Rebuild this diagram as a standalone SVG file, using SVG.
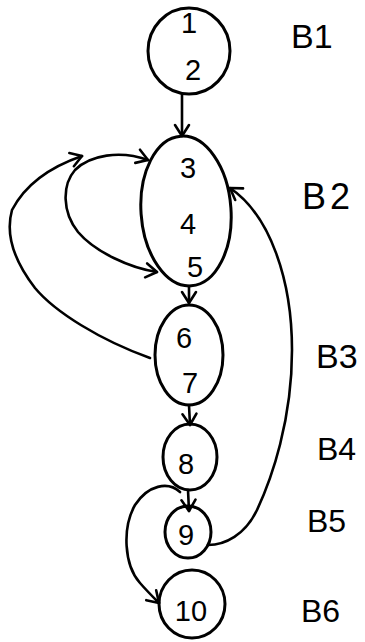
<svg xmlns="http://www.w3.org/2000/svg" width="365" height="642" viewBox="0 0 365 642">
<style>
.node{fill:none;stroke:#000;stroke-width:3}
.edge{fill:none;stroke:#000;stroke-width:2.6;stroke-linecap:round;stroke-linejoin:round}
.num{font-family:"Liberation Sans",Arial,sans-serif;font-size:29px;fill:#000;text-anchor:middle}
.lbl{font-family:"Liberation Sans",Arial,sans-serif;font-size:34px;fill:#000}
</style>
<defs>
<marker id="ah" viewBox="-14 -9 16 18" refX="0" refY="0" markerWidth="16" markerHeight="18" markerUnits="userSpaceOnUse" orient="auto-start-reverse">
<path d="M-11,-7 L0,0 L-11,7" fill="none" stroke="#000" stroke-width="2.6" stroke-linecap="round" stroke-linejoin="round"/>
</marker>
</defs>
<rect width="365" height="642" fill="#fff"/>
<g id="B1">
<ellipse class="node" cx="189" cy="51" rx="41" ry="43"/>
<text class="num" x="189" y="33">1</text>
<text class="num" x="193" y="80">2</text>
<text class="lbl" x="291" y="48">B1</text>
</g>
<g id="B2">
<ellipse class="node" cx="186" cy="211" rx="45" ry="75" transform="rotate(-4 186 211)"/>
<text class="num" x="188" y="178">3</text>
<text class="num" x="188" y="234">4</text>
<text class="num" x="195" y="277">5</text>
<text class="lbl" x="302" y="209" style="font-size:36px;letter-spacing:4px">B2</text>
</g>
<g id="B3">
<ellipse class="node" cx="189" cy="355" rx="34" ry="50"/>
<text class="num" x="184" y="348">6</text>
<text class="num" x="190" y="393">7</text>
<text class="lbl" x="316" y="368">B3</text>
</g>
<g id="B4">
<ellipse class="node" cx="190" cy="457" rx="27" ry="33"/>
<text class="num" x="186" y="474">8</text>
<text class="lbl" x="317" y="460" style="font-size:32px">B4</text>
</g>
<g id="B5">
<ellipse class="node" cx="188" cy="532" rx="23" ry="26"/>
<text class="num" x="186" y="545">9</text>
<text class="lbl" x="307" y="532" style="font-size:32px">B5</text>
</g>
<g id="B6">
<ellipse class="node" cx="192" cy="604" rx="33" ry="34"/>
<text class="num" x="191" y="621">10</text>
<text class="lbl" x="301" y="622" style="font-size:32px">B6</text>
</g>
<g id="connectors">
<path class="edge" d="M182,95 L182,136" marker-end="url(#ah)"/>
<path class="edge" d="M189,286 L189,303" marker-end="url(#ah)"/>
<path class="edge" d="M189,405 L190,425" marker-end="url(#ah)"/>
<path class="edge" d="M188,490 L189,511" marker-end="url(#ah)"/>
<path class="edge" d="M157,272 C130,268 95,252 78,232 C62,212 62,185 75,170 C90,155 120,150 148,160" marker-start="url(#ah)" marker-end="url(#ah)"/>
<path class="edge" d="M150,358 C100,340 55,312 35,288 C15,262 5,235 12,210 C25,185 50,167 82,156" marker-end="url(#ah)"/>
<path class="edge" d="M208,545 C225,545 245,535 257,510 C272,478 292,420 292,350 C292,280 270,215 230,188" marker-end="url(#ah)"/>
<path class="edge" d="M180,492 C168,481 148,485 135,505 C122,528 124,565 140,583 C147,591 153,597 159,603" marker-end="url(#ah)"/>
</g>
</svg>
